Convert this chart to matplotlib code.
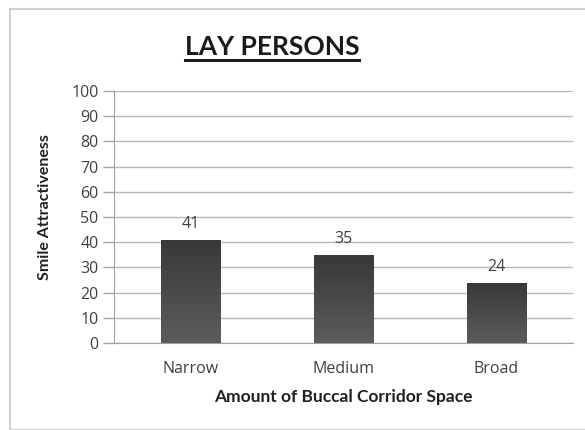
import matplotlib
matplotlib.use("Agg")
import matplotlib.pyplot as plt
import numpy as np
from matplotlib.patches import Rectangle
from matplotlib.lines import Line2D
from matplotlib.colors import LinearSegmentedColormap

categories = ["Narrow", "Medium", "Broad"]
values = [41, 35, 24]
yticks = list(range(0, 101, 10))

W, H = 585, 430
fig = plt.figure(figsize=(W/100, H/100), dpi=100)
fig.patch.set_facecolor("white")

# outer chart border
fig.add_artist(Rectangle((10/W, 0), 1.2, 1 - 9/H, transform=fig.transFigure,
                         fill=False, edgecolor="#d0d0d0", linewidth=1.5))

ax = fig.add_axes([114/W, 1 - 343/H, 459/W, (343 - 91)/H])
x = np.arange(len(categories))
bars = ax.bar(x, values, width=0.39, color="#4a4a4a", zorder=3)

# vertical gradient inside bars
grad = np.linspace(0, 1, 256).reshape(-1, 1)
cmap = LinearSegmentedColormap.from_list("g", ["#5c5c5c", "#383838"])
for b in bars:
    bx, by, bw, bh = b.get_x(), b.get_y(), b.get_width(), b.get_height()
    im = ax.imshow(grad, extent=[bx, bx + bw, by, by + bh], origin="lower",
                   cmap=cmap, aspect="auto", zorder=3.5)
    im.set_clip_path(b)

for xi, v in zip(x, values):
    ax.text(xi, v + 3, str(v), ha="center", va="bottom", fontsize=11.5,
            color="#404040", family="Open Sans")

ax.set_xlim(-0.5, len(categories) - 0.5)
ax.set_ylim(0, 100)
ax.set_yticks(yticks)
ax.set_yticklabels([str(t) for t in yticks], fontsize=11.5, color="#404040", family="Open Sans")
ax.set_xticks(x)
ax.set_xticklabels(categories, fontsize=11.5, color="#404040", family="Open Sans")
ax.tick_params(axis="x", length=0, pad=13)
ax.tick_params(axis="y", length=8, color="#a0a0a0", width=1, pad=3)
ax.yaxis.grid(True, color="#b8b8b8", linewidth=1)
ax.set_axisbelow(True)
for s in ["top", "right"]:
    ax.spines[s].set_visible(False)
ax.spines["left"].set_color("#a0a0a0")
ax.spines["bottom"].set_color("#a0a0a0")

ax.set_ylabel("Smile Attractiveness", fontsize=11.5, fontweight="bold", family="Lato",
              color="#202020")
ax.yaxis.set_label_coords((45 - 114) / 459, (343 - 207) / 252)
ax.set_xlabel("Amount of Buccal Corridor Space", fontsize=12.5, fontweight="bold",
              family="Lato", color="#202020")
ax.xaxis.set_label_coords(0.5, -(397 - 343) / 252)
ax.xaxis.label.set_va("center")
ax.yaxis.label.set_va("center")

title = fig.text(272/W, 1 - 47/H, "LAY PERSONS", ha="center", va="center",
                 fontsize=19, fontweight="bold", family="Lato", color="#1a1a1a")
fig.canvas.draw()
bb = title.get_window_extent()
fig.add_artist(Line2D([bb.x0 / W, bb.x1 / W], [(bb.y0 - 1) / H, (bb.y0 - 1) / H],
                      transform=fig.transFigure, color="#1a1a1a", linewidth=2.2))

fig.savefig("out.png", dpi=100)
